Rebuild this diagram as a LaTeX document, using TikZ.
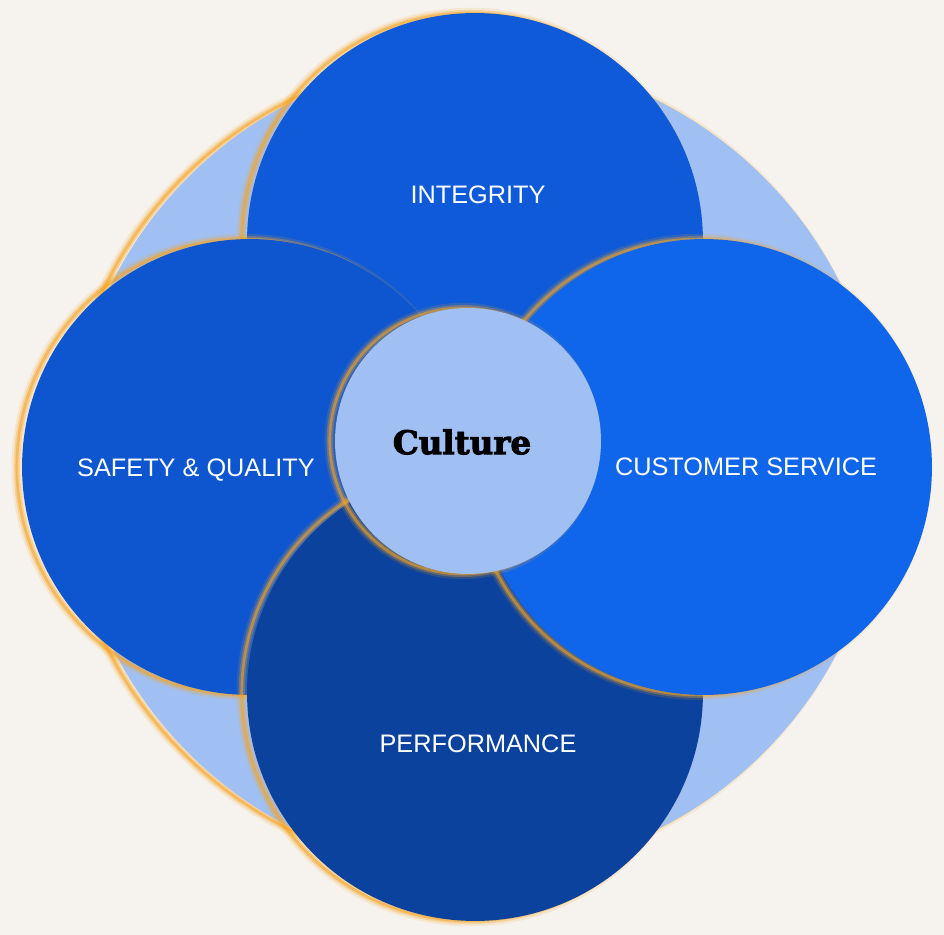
\documentclass[tikz,border=0pt]{standalone}
\usepackage{fontspec}
\setmainfont{Liberation Sans}
\newfontfamily\culturefont{DejaVu Serif}[BoldFeatures={FakeBold=3}]

\definecolor{bgc}{RGB}{246,242,238}
\definecolor{paleblue}{RGB}{160,192,244}
\definecolor{topblue}{RGB}{14,90,216}
\definecolor{leftblue}{RGB}{13,86,208}
\definecolor{rightblue}{RGB}{16,102,234}
\definecolor{bottomblue}{RGB}{10,66,158}
\definecolor{glowc}{RGB}{245,165,35}

\tikzset{
  glow/.style={
    preaction={draw=glowc, draw opacity=0.15, line width=6pt, transform canvas={xshift=-3pt}},
    preaction={draw=glowc, draw opacity=0.3, line width=3.5pt, transform canvas={xshift=-3pt}},
    preaction={draw=glowc, draw opacity=0.55, line width=1.5pt, transform canvas={xshift=-3pt}}},
  disc/.style={circle, inner sep=0pt, glow},
  petal/.style={disc, minimum size=9.12cm},
  lbl/.style={text=white, font=\fontsize{14.4}{16}\selectfont}
}

\begin{document}
\begin{tikzpicture}[x=0.02cm, y=-0.02cm]
\useasboundingbox (0,0) rectangle (944,935);
\fill[bgc] (0,0) rectangle (944,935);
\node[disc, fill=paleblue, minimum size=16.28cm] (ring) at (476,465) {};
\node[petal, fill=topblue] (integrity) at (475,241) {};
\node[petal, fill=leftblue] (safety) at (250,467) {};
\node[petal, fill=bottomblue] (performance) at (475,693) {};
\node[petal, fill=rightblue] (service) at (704,467) {};
\node[disc, fill=paleblue, minimum size=5.32cm] (culture) at (468,441) {};
\node[font=\culturefont\bfseries\fontsize{18.5}{20}\selectfont] (culturetext) at (462,442) {Culture};
\node[lbl] (integritytext) at (478,195) {INTEGRITY};
\node[lbl] (safetytext) at (196,470) {SAFETY \& QUALITY};
\node[lbl] (servicetext) at (746,467) {CUSTOMER SERVICE};
\node[lbl] (performancetext) at (478,744) {PERFORMANCE};
\end{tikzpicture}
\end{document}
